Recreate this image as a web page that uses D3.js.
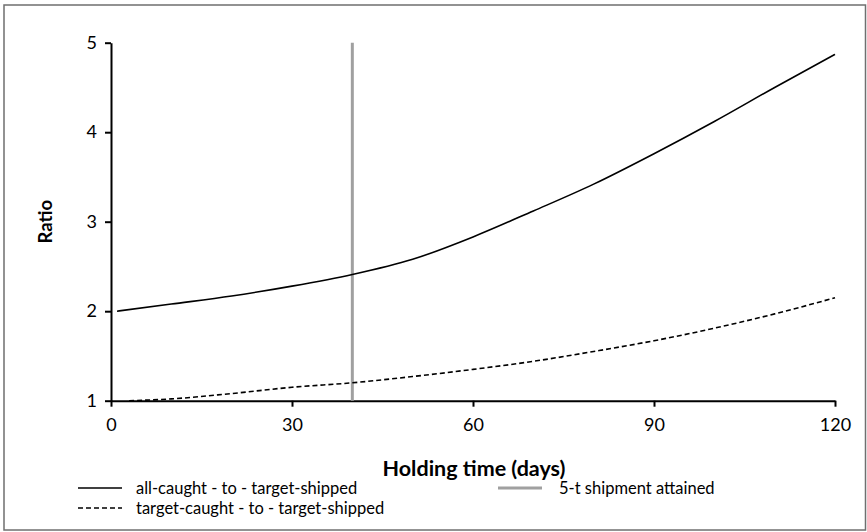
<!DOCTYPE html>
<html>
<head>
<meta charset="utf-8">
<script src="https://cdn.jsdelivr.net/npm/d3@7"></script>
<style>
  html, body { margin: 0; padding: 0; background: #fff; }
  svg { display: block; font-family: Lato, "Open Sans", sans-serif; }
</style>
</head>
<body>
<svg id="chart" width="867" height="532"></svg>
<script>
// ---- data ----
const days = [1, 10, 20, 30, 40, 50, 60, 70, 80, 90, 100, 110, 120];
const allCaught = [2.00, 2.08, 2.17, 2.28, 2.41, 2.58, 2.83, 3.12, 3.42, 3.76, 4.12, 4.50, 4.87];
const targetDays = [3, 10, 20, 30, 40, 50, 60, 70, 80, 90, 100, 110, 120];
const targetCaught = [1.00, 1.02, 1.08, 1.15, 1.20, 1.27, 1.35, 1.44, 1.55, 1.67, 1.81, 1.97, 2.15];
const shipmentDay = 40;
const xTicks = [0, 30, 60, 90, 120];
const yTicks = [1, 2, 3, 4, 5];
const seriesNames = ["all-caught - to - target-shipped", "target-caught - to - target-shipped"];
const markerName = "5-t shipment attained";
const xTitle = "Holding time (days)";
const yTitle = "Ratio";

// ---- layout ----
const svg = d3.select("#chart");
const W = 867, H = 532;
const x = d3.scaleLinear().domain([0, 120]).range([111, 835]);
const y = d3.scaleLinear().domain([1, 5]).range([400.7, 42.7]);

// frame
svg.append("rect").attr("x", 4).attr("y", 5).attr("width", W - 5.5).attr("height", H - 7)
  .attr("fill", "none").attr("stroke", "#6f6f6f").attr("stroke-width", 1.5);

// axes
const xAxis = svg.append("g").attr("transform", `translate(0,${y(1)})`)
  .call(d3.axisBottom(x).tickValues(xTicks).tickFormat(d3.format("d")).tickSize(6).tickPadding(12).tickSizeOuter(0));
const yAxis = svg.append("g").attr("transform", `translate(${x(0)},0)`)
  .call(d3.axisLeft(y).tickValues(yTicks).tickFormat(d3.format("d")).tickSize(6).tickPadding(8).tickSizeOuter(0));
[xAxis, yAxis].forEach(g => {
  g.select(".domain").attr("stroke", "#000").attr("stroke-width", 2);
  g.selectAll(".tick line").attr("stroke", "#000").attr("stroke-width", 2);
  g.selectAll(".tick text").attr("fill", "#000").style("font-size", "18px").style("font-family", "Lato, sans-serif");
});

// marker line
svg.append("line")
  .attr("x1", x(shipmentDay)).attr("x2", x(shipmentDay))
  .attr("y1", y(5)).attr("y2", y(1))
  .attr("stroke", "#a0a0a0").attr("stroke-width", 3);

// series
const line = xs => d3.line().x((d, i) => x(xs[i])).y(d => y(d)).curve(d3.curveMonotoneX);
svg.append("path").datum(allCaught).attr("d", line(days))
  .attr("fill", "none").attr("stroke", "#000").attr("stroke-width", 1.6);
svg.append("path").datum(targetCaught).attr("d", line(targetDays))
  .attr("fill", "none").attr("stroke", "#000").attr("stroke-width", 1.6)
  .attr("stroke-dasharray", "5,3");

// titles
svg.append("text").attr("x", 474).attr("y", 476).attr("text-anchor", "middle")
  .style("font-size", "21.5px").style("font-weight", "bold").text(xTitle);
svg.append("text").attr("transform", `translate(52,${(y(1) + y(5)) / 2}) rotate(-90)`)
  .attr("text-anchor", "middle").style("font-size", "18.5px").style("font-weight", "bold").text(yTitle);

// legend
const leg = [
  { name: seriesNames[0], x: 78, y: 488, color: "#000", dash: null, w: 1.6 },
  { name: seriesNames[1], x: 78, y: 508, color: "#000", dash: "5,3", w: 1.6 },
  { name: markerName, x: 498, y: 488, color: "#a0a0a0", dash: null, w: 3 }
];
leg.forEach(d => {
  svg.append("line").attr("x1", d.x).attr("x2", d.x + 44).attr("y1", d.y).attr("y2", d.y)
    .attr("stroke", d.color).attr("stroke-width", d.w).attr("stroke-dasharray", d.dash);
  svg.append("text").attr("x", d.x + (d.x > 300 ? 61 : 58)).attr("y", d.y + 5.5)
    .style("font-size", "16.5px").attr("fill", "#000").text(d.name);
});
</script>
</body>
</html>
